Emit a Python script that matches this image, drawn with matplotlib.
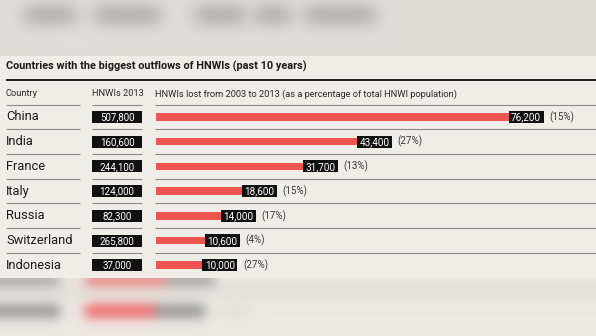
import numpy as np
import matplotlib.pyplot as plt
from matplotlib.patches import Rectangle
from matplotlib.colors import to_rgb

countries = ['China', 'India', 'France', 'Italy', 'Russia', 'Switzerland', 'Indonesia']
hnwi_2013 = [507800, 160600, 244100, 124000, 82300, 265800, 37000]
hnwi_lost = [76200, 43400, 31700, 18600, 14000, 10600, 10000]
lost_pct = [15, 27, 13, 15, 17, 4, 27]

title = 'Countries with the biggest outflows of HNWIs (past 10 years)'
heads = ['Country', 'HNWIs 2013',
         'HNWIs lost from 2003 to 2013 (as a percentage of total HNWI population)']

W, H = 596, 336
RED = '#ee5451'
PANEL = '#f0ece8'
INK = '#1b1b1b'
RULE = '#8c8a88'

plt.rcParams['font.family'] = ['Roboto', 'DejaVu Sans']


def blur(img, sigma):
    r = int(3 * sigma)
    x = np.arange(-r, r + 1)
    k = np.exp(-x ** 2 / (2.0 * sigma ** 2))
    k /= k.sum()
    pad = np.pad(img, ((r, r), (r, r), (0, 0)), mode='edge')
    out = np.apply_along_axis(lambda m: np.convolve(m, k, mode='valid'), 0, pad)
    out = np.apply_along_axis(lambda m: np.convolve(m, k, mode='valid'), 1, out)
    return np.clip(out, 0, 1)


# out-of-focus page around the card
top = np.ones((80, W, 3)) * to_rgb('#dedbd8')
for x0, x1 in [(25, 75), (95, 160), (195, 245), (255, 290), (305, 375)]:
    top[9:21, x0:x1] = to_rgb('#9c9a98')
top[40:48, 60:90] = to_rgb('#e6e4e1')
top = blur(top, 8)

bottom = np.ones((90, W, 3)) * to_rgb('#ece8e4')
bottom[40:50] = to_rgb('#e0dcd8')
for y0, y1 in [(30, 38), (59, 71)]:
    bottom[y0:y1, 0:60] = to_rgb('#8e8d8c')
bottom[30:38, 85:165] = to_rgb(RED)
bottom[30:38, 165:215] = to_rgb('#858483')
bottom[59:71, 85:155] = to_rgb(RED)
bottom[59:71, 155:205] = to_rgb('#8a8988')
bottom[62:68, 220:250] = to_rgb('#dcd9d5')
bottom = blur(bottom, 6)

fig = plt.figure(figsize=(W / 100, H / 100), dpi=100)
bg = fig.add_axes([0, 0, 1, 1])
bg.imshow(top, extent=(0, W, 80, 0), aspect='auto', interpolation='bilinear')
bg.imshow(bottom, extent=(0, W, H, H - 90), aspect='auto', interpolation='bilinear')
bg.set_xlim(0, W)
bg.set_ylim(H, 0)
bg.axis('off')
bg.add_patch(Rectangle((0, 56), W, 222, color=PANEL, lw=0))

bg.text(6, 66, title, fontsize=7.8, fontweight='bold', color=INK, va='center')
bg.plot([6, W], [79.5, 79.5], color=INK, lw=1.4, solid_capstyle='butt')

for x, t in zip([6, 92, 155], heads):
    bg.text(x, 94, t, fontsize=6.7, color='#2a2a2a', va='center')

row0, step = 117, 24.7
for i in range(len(countries)):
    yl = row0 - step / 2 + i * step
    for x0, x1 in [(6, 80), (92, 142), (155, W)]:
        bg.plot([x0, x1], [yl, yl], color=RULE, lw=0.8, solid_capstyle='butt')

for i, (c, n) in enumerate(zip(countries, hnwi_2013)):
    y = row0 + i * step
    bg.text(6, y, c, fontsize=9.3, color=INK, va='center')
    bg.add_patch(Rectangle((92, y - 6), 50, 12, color='#111111', lw=0))
    bg.text(117, y + 0.5, f'{n:,}', fontsize=7, color='white', ha='center', va='center')

# bars for HNWIs lost
ax = fig.add_axes([156 / W, (H - (row0 + 6.5 * step)) / H,
                   439.5 / W, 7 * step / H])
ax.set_xlim(0, 95000)
ax.set_ylim(6.5, -0.5)
ax.axis('off')
ax.patch.set_alpha(0)
idx = np.arange(len(countries))
ax.barh(idx, hnwi_lost, height=0.3, color=RED, lw=0)

box_w, box_h = 7600, 0.49
for i, (v, p) in enumerate(zip(hnwi_lost, lost_pct)):
    ax.add_patch(Rectangle((v, i - box_h / 2), box_w, box_h, color='#111111', lw=0))
    ax.text(v + box_w / 2, i + 0.02, f'{v:,}', fontsize=7.2, color='white',
            ha='center', va='center')
    ax.annotate(f'({p}%)', (v + box_w, i), xytext=(4, 0), textcoords='offset points',
                fontsize=7, color='#3a3a3a', va='center')

fig.savefig('out.png', dpi=100)
